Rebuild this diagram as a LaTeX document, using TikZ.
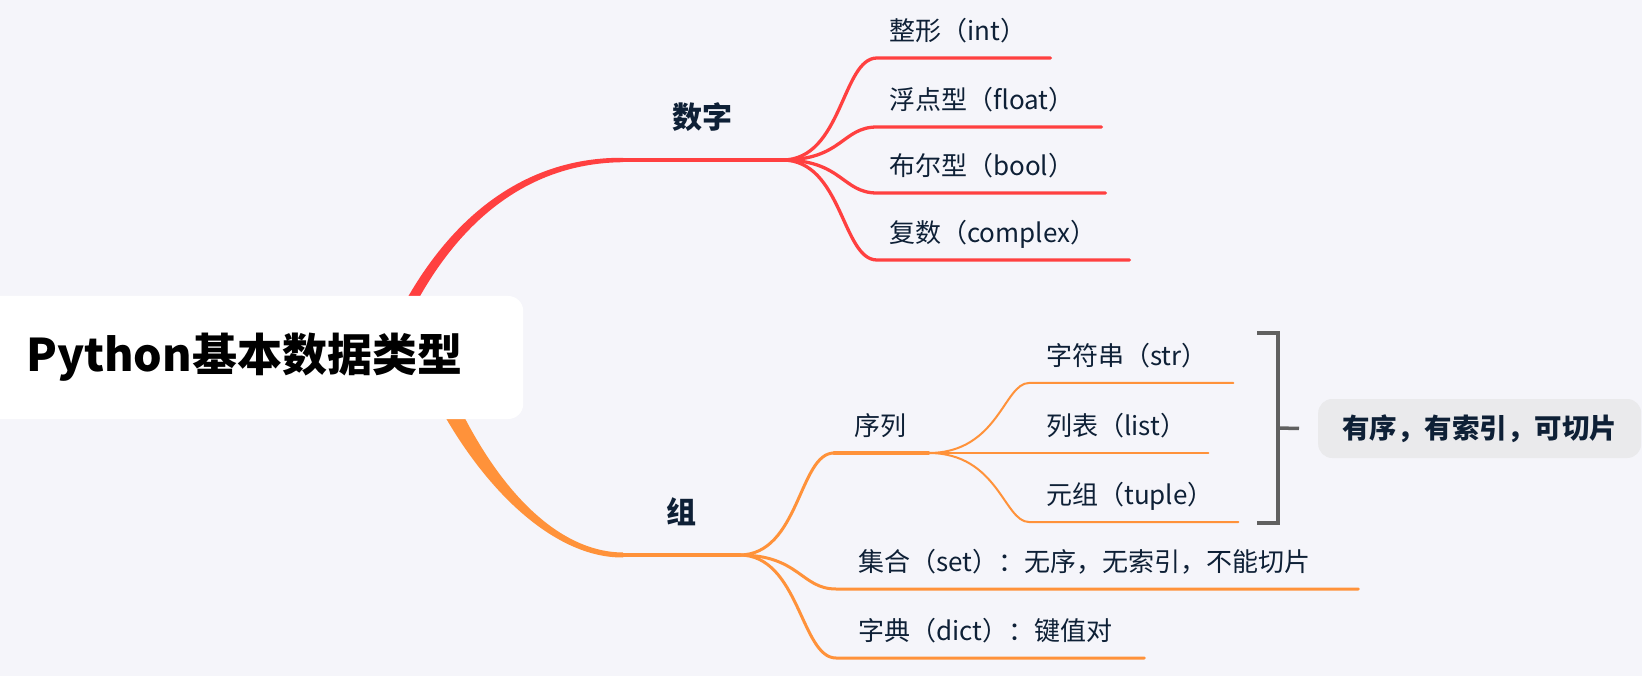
\documentclass[tikz,border=0pt]{standalone}
\usepackage{fontspec}
\setmainfont{Noto Sans CJK SC}
\usepackage{xcolor}
\usepackage{tikz}
\usetikzlibrary{positioning}

\definecolor{bgcol}{RGB}{245,245,250}
\definecolor{ink}{RGB}{14,32,54}
\definecolor{numred}{RGB}{255,64,64}
\definecolor{grporange}{RGB}{255,146,58}
\definecolor{bracegray}{RGB}{96,96,96}
\definecolor{notegray}{RGB}{234,234,236}

\tikzset{
    leaf/.style={anchor=south west, inner ysep=0pt, text height=22pt, text depth=17pt, align=left, text=ink, font=\fontsize{26}{30}\selectfont},
    hub/.style={anchor=south west, inner sep=0pt, text height=24pt, text depth=31.6pt, text=ink, font=\fontsize{30}{34}\selectfont\bfseries},
    rootbox/.style={anchor=west, fill=white, rounded corners=15pt, inner xsep=46pt, minimum height=123pt, text width=451pt, align=left, text=black, font=\fontsize{45}{50}\selectfont\bfseries},
    notebox/.style={anchor=west, fill=notegray, rounded corners=14pt, inner xsep=24pt, minimum height=59pt, text width=275pt, align=left, text=ink, font=\fontsize{27.5}{32}\selectfont\bfseries},
    redbr/.style={draw=numred, line width=3.3pt, line cap=round},
    orgbr/.style={draw=grporange, line width=3pt, line cap=round},
    subbr/.style={draw=grporange, line width=2pt, line cap=round},
}

\begin{document}
\begin{tikzpicture}[x=1pt, y=-1pt]
    \useasboundingbox (0,0) rectangle (1642,676);
    \clip (0,0) rectangle (1642,676);
    \fill[bgcol] (0,0) rectangle (1642,676);

    \node[hub, minimum width=159pt] (num) at (623,160) {数字};
    \node[hub, minimum width=116pt] (grp) at (623,555) {组};

    \node[leaf, inner xsep=12pt, text width=149pt] (int) at (877,58) {整形（int）};
    \node[leaf, inner xsep=12pt, text width=200pt] (float) at (877,127) {浮点型（float）};
    \node[leaf, inner xsep=12pt, text width=204pt] (bool) at (877,193) {布尔型（bool）};
    \node[leaf, inner xsep=12pt, text width=228pt] (cplx) at (877,260) {复数（complex）};

    \node[leaf, inner xsep=20pt, text width=54pt] (seq) at (834,453) {序列};
    \node[leaf, inner xsep=22pt, text width=478pt] (setn) at (836,589) {集合（set）：无序，无索引，不能切片};
    \node[leaf, inner xsep=22pt, text width=264pt] (dict) at (836,658) {字典（dict）：键值对};

    \node[leaf, inner xsep=17pt, text width=170pt] (str) at (1029,383) {字符串（str）};
    \node[leaf, inner xsep=17pt, text width=145pt] (lst) at (1029,453) {列表（list）};
    \node[leaf, inner xsep=17pt, text width=175pt] (tup) at (1029,522) {元组（tuple）};

    \node[notebox] (note) at (1318,428.5) {有序，有索引，可切片};

    \coordinate (rootN) at (404,315);
    \coordinate (rootS) at (446,400);

    \fill[numred] ([shift={(-8,4.1)}]rootN) .. controls (450.3,211.2) and (530,157) .. ([yshift=2.2pt]num.south west)
        -- ([yshift=-2.2pt]num.south west) .. controls (530,163) and (459.7,218.8) .. ([shift={(8,-4.1)}]rootN) -- cycle;
    \fill[grporange] ([shift={(-8,4)}]rootS) .. controls (485.1,491.5) and (555,558) .. ([yshift=-2.5pt]grp.south west)
        -- ([yshift=2.5pt]grp.south west) .. controls (555,552) and (494.9,484.5) .. ([shift={(8,-4)}]rootS) -- cycle;

    \draw[redbr, line width=4pt] (num.south west) -- (num.south east);
    \draw[redbr] (num.south east) .. controls +(60,0) and +(-35,0) .. (int.south west) -- (int.south east);
    \draw[redbr] (num.south east) .. controls +(60,0) and +(-35,0) .. (float.south west) -- (float.south east);
    \draw[redbr] (num.south east) .. controls +(60,0) and +(-35,0) .. (bool.south west) -- (bool.south east);
    \draw[redbr] (num.south east) .. controls +(60,0) and +(-35,0) .. (cplx.south west) -- (cplx.south east);

    \draw[orgbr, line width=4pt] (grp.south west) -- (grp.south east);
    \draw[orgbr] (grp.south east) .. controls +(60,0) and +(-35,0) .. (seq.south west);
    \draw[orgbr, line width=3.5pt] (seq.south west) -- (seq.south east);
    \draw[orgbr] (grp.south east) .. controls +(60,0) and +(-35,0) .. (setn.south west) -- (setn.south east);
    \draw[orgbr] (grp.south east) .. controls +(60,0) and +(-35,0) .. (dict.south west) -- (dict.south east);

    \draw[subbr] (seq.south east) .. controls +(70,0) and +(-25,0) .. (str.south west) -- (str.south east);
    \draw[subbr] (seq.south east) -- (lst.south east);
    \draw[subbr] (seq.south east) .. controls +(70,0) and +(-25,0) .. (tup.south west) -- (tup.south east);

    \coordinate (brTop) at (1257,333);
    \coordinate (brMid) at (1278,428);
    \coordinate (brBot) at (1257,523);
    \draw[bracegray, line width=3.5pt] (brTop) -| (brMid) |- (brBot);
    \draw[bracegray, line width=3.5pt] (brMid) -- ([xshift=-19pt]note.west);

    \node[rootbox] (root) at (-20,357.5) {Python基本数据类型};
\end{tikzpicture}
\end{document}
